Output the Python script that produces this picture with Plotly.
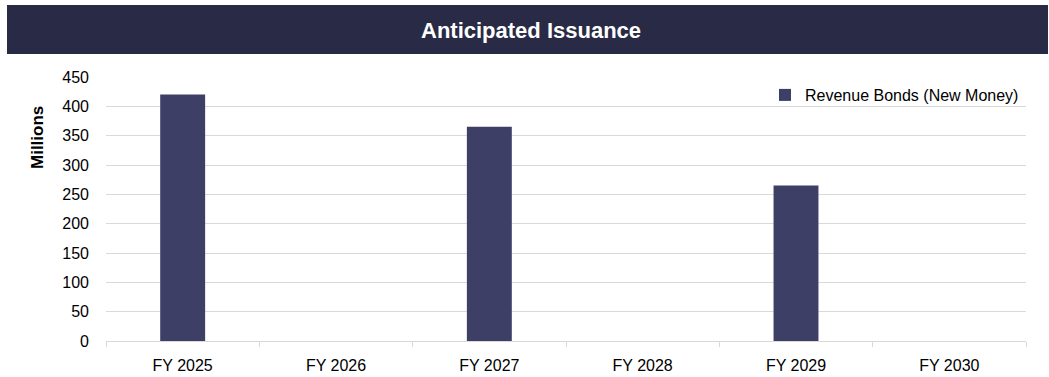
import plotly.graph_objects as go

# Anticipated issuance by fiscal year (millions)
categories = ["FY 2025", "FY 2026", "FY 2027", "FY 2028", "FY 2029", "FY 2030"]
revenue_bonds_new_money = [420, 0, 365, 0, 265, 0]
y_ticks = [0, 50, 100, 150, 200, 250, 300, 350, 400, 450]

W, H = 1049, 377
L, R, T, B = 106, 23, 77, 36
PW, PH = W - L - R, H - T - B

BAR = "#3d3f66"
BANNER = "#292b46"
GRID = "#d9d9d9"
FONT = "Liberation Sans, Arial, sans-serif"


def px_x(x):
    return (x - L) / PW


def px_y(y):
    return (H - B - y) / PH


fig = go.Figure()
fig.add_trace(go.Bar(
    x=categories,
    y=revenue_bonds_new_money,
    name="Revenue Bonds (New Money)",
    marker=dict(color=BAR, line=dict(width=0)),
    width=0.293,
))

fig.update_layout(
    width=W,
    height=H,
    margin=dict(l=L, r=R, t=T, b=B, pad=0, autoexpand=False),
    paper_bgcolor="white",
    plot_bgcolor="white",
    font=dict(family=FONT, size=16, color="#000000"),
    showlegend=True,
    legend=dict(
        x=px_x(765), xanchor="left",
        y=px_y(95), yanchor="middle",
        bgcolor="rgba(0,0,0,0)",
        font=dict(family=FONT, size=16, color="#000000"),
        itemwidth=30,
    ),
    xaxis=dict(
        type="category",
        automargin=False,
        showline=True,
        linecolor=GRID,
        linewidth=1,
        ticks="outside",
        tickson="boundaries",
        ticklen=5,
        tickcolor=GRID,
        tickwidth=1,
        showgrid=False,
        tickfont=dict(family=FONT, size=16, color="#000000"),
        ticklabelstandoff=10,
        fixedrange=True,
    ),
    yaxis=dict(
        range=[0, 450],
        automargin=False,
        tickvals=y_ticks,
        showgrid=True,
        gridcolor=GRID,
        gridwidth=1,
        zeroline=False,
        showline=False,
        ticks="",
        tickfont=dict(family=FONT, size=16, color="#000000"),
        ticklabelstandoff=16,
        fixedrange=True,
    ),
    shapes=[
        dict(
            type="rect", xref="paper", yref="paper",
            x0=px_x(7), x1=px_x(1048), y0=px_y(54), y1=px_y(5),
            fillcolor=BANNER, line=dict(width=0), layer="above",
        )
    ],
    annotations=[
        dict(
            text="<b>Anticipated Issuance</b>",
            xref="paper", yref="paper",
            x=px_x(531), y=px_y(30),
            xanchor="center", yanchor="middle",
            showarrow=False,
            font=dict(family=FONT, size=22, color="#ffffff"),
        ),
        dict(
            text="<b>Millions</b>",
            xref="paper", yref="paper",
            x=px_x(37), y=px_y(138),
            xanchor="center", yanchor="middle",
            textangle=-90,
            showarrow=False,
            font=dict(family=FONT, size=17, color="#000000"),
        ),
    ],
)

fig.write_html("out.html")
